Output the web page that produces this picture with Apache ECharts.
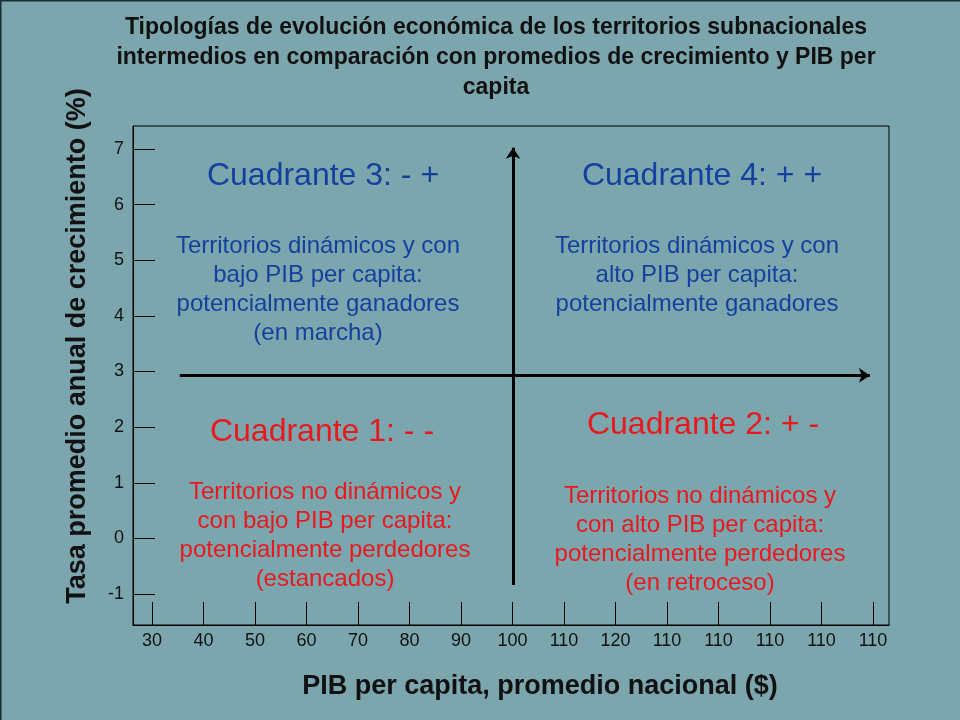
<!DOCTYPE html>
<html>
<head>
<meta charset="utf-8">
<title>Tipologías de evolución económica</title>
<script src="https://cdn.jsdelivr.net/npm/echarts@6/dist/echarts.min.js"></script>
<style>
    html, body { margin: 0; padding: 0; background: #7ba6ae; }
    #chart { width: 960px; height: 720px; }
</style>
</head>
<body>
<div id="chart"></div>
<script>
"use strict";

// tick labels of the horizontal axis (as printed in the source, repeats included)
var xLabels = ['30', '40', '50', '60', '70', '80', '90', '100', '110', '120', '110', '110', '110', '110', '110'];
var yTicks  = [-1, 0, 1, 2, 3, 4, 5, 6, 7];

// the two crossing arrows, in axis units (x = label index, y = rate %)
var hArrow = [[0.54, 2.93], [13.94, 2.93]];
var vArrow = [[7.01, -0.84], [7.01, 7.02]];

var quadTitles = [
    { text: 'Cuadrante 3: - +', x: 323, y: 176, color: '#14409e' },
    { text: 'Cuadrante 4: + +', x: 702, y: 176, color: '#14409e' },
    { text: 'Cuadrante 1: - -', x: 322, y: 432, color: '#e8191e' },
    { text: 'Cuadrante 2: + -', x: 703, y: 425, color: '#e8191e' }
];
var quadTexts = [
    { text: 'Territorios dinámicos y con\nbajo PIB per capita:\npotencialmente ganadores\n(en marcha)', x: 318, y: 232, color: '#14409e' },
    { text: 'Territorios dinámicos y con\nalto PIB per capita:\npotencialmente ganadores', x: 697, y: 232, color: '#14409e' },
    { text: 'Territorios no dinámicos y\ncon bajo PIB per capita:\npotencialmente perdedores\n(estancados)', x: 325, y: 478, color: '#e8191e' },
    { text: 'Territorios no dinámicos y\ncon alto PIB per capita:\npotencialmente perdedores\n(en retroceso)', x: 700, y: 482, color: '#e8191e' }
];

var font = 'Arial, "Liberation Sans", sans-serif';
var chart = echarts.init(document.getElementById('chart'));

var graphics = [];
quadTitles.forEach(function (q) {
    graphics.push({
        type: 'text', x: q.x, y: q.y,
        style: { text: q.text, fill: q.color, font: '32px ' + font, textAlign: 'center', textVerticalAlign: 'middle' }
    });
});
quadTexts.forEach(function (q) {
    graphics.push({
        type: 'text', x: q.x, y: q.y,
        style: { text: q.text, fill: q.color, font: '24px ' + font, textAlign: 'center', textVerticalAlign: 'top', lineHeight: 29 }
    });
});
// axis titles sit off-centre in the source, so they are placed by hand
graphics.push({
    type: 'text', x: 78, y: 346, rotation: Math.PI / 2,
    style: { text: 'Tasa promedio anual de crecimiento (%)', fill: '#111', font: 'bold 27px ' + font,
             textAlign: 'center', textVerticalAlign: 'middle' }
});
graphics.push({
    type: 'text', x: 540, y: 687,
    style: { text: 'PIB per capita, promedio nacional ($)', fill: '#111', font: 'bold 27px ' + font,
             textAlign: 'center', textVerticalAlign: 'middle' }
});
// thin dark frame on the top / left edge of the slide
graphics.push({ type: 'rect', shape: { x: 0, y: 0, width: 960, height: 1.5 }, style: { fill: '#1c2c33' } });
graphics.push({ type: 'rect', shape: { x: 0, y: 0, width: 1.5, height: 720 }, style: { fill: '#1c2c33' } });

var option = {
    backgroundColor: '#7ba6ae',
    animation: false,
    title: {
        text: 'Tipologías de evolución económica de los territorios subnacionales\nintermedios en comparación con promedios de crecimiento y PIB per\ncapita',
        left: 491, top: 8, textAlign: 'center',
        textStyle: { fontFamily: font, fontSize: 23, fontWeight: 'bold', color: '#111', lineHeight: 30 }
    },
    grid: {
        left: 133, top: 126, width: 756, height: 499,
        show: true, borderColor: '#000', borderWidth: 1, backgroundColor: 'transparent',
        containLabel: false, outerBoundsMode: 'none'
    },
    xAxis: {
        type: 'value', min: -0.369, max: 14.31,
        axisLine: { show: true, onZero: false, lineStyle: { color: '#000', width: 1 } },
        axisTick: { show: true, inside: true, length: 23, lineStyle: { color: '#000' },
                    customValues: xLabels.map(function (l, i) { return i; }) },
        axisLabel: { fontFamily: font, fontSize: 18, color: '#111', margin: 7,
                     customValues: xLabels.map(function (l, i) { return i; }),
                     formatter: function (v) { return xLabels[Math.round(v)]; } },
        splitLine: { show: false }
    },
    yAxis: {
        type: 'value', min: -1.557, max: 7.413,
        axisLine: { show: true, onZero: false, lineStyle: { color: '#000', width: 1 } },
        axisTick: { show: true, inside: true, length: 22, lineStyle: { color: '#000' }, customValues: yTicks },
        axisLabel: { fontFamily: font, fontSize: 18, color: '#111', margin: 9, customValues: yTicks },
        splitLine: { show: false }
    },
    series: [{
        type: 'lines',
        coordinateSystem: 'cartesian2d',
        polyline: false,
        symbol: ['none', 'arrow'],
        symbolSize: 11,
        lineStyle: { color: '#000', width: 3, opacity: 1 },
        data: [{ coords: hArrow }, { coords: vArrow }]
    }],
    graphic: graphics
};

chart.setOption(option);
</script>
</body>
</html>
